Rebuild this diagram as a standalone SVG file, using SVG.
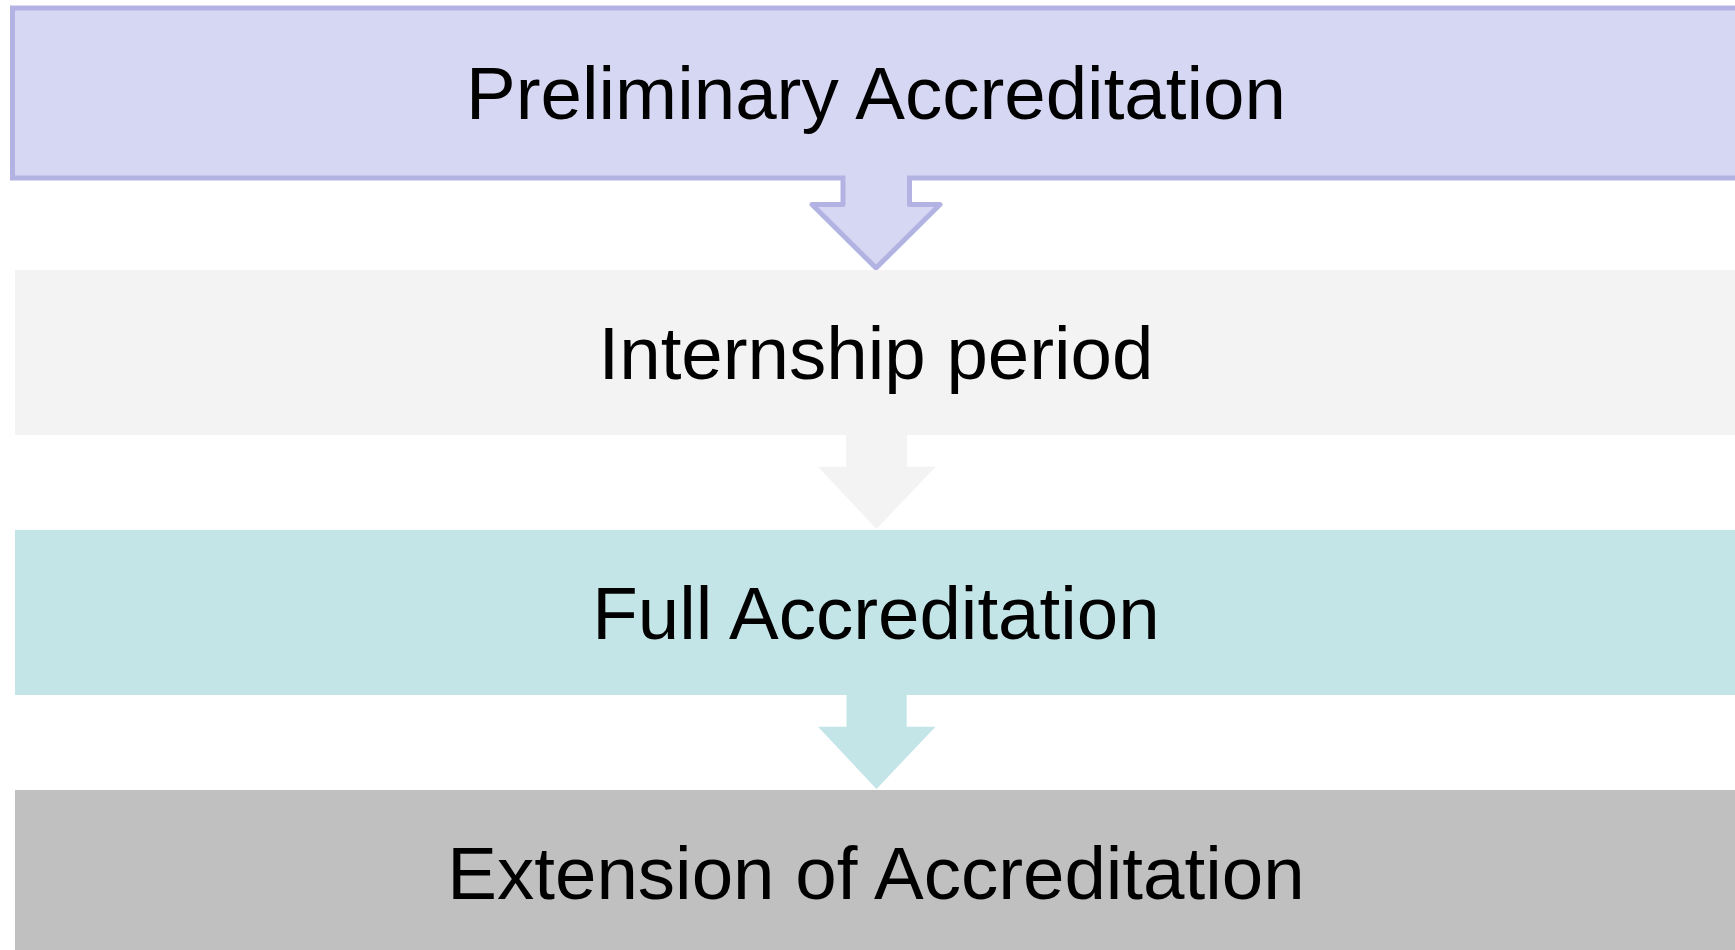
<svg xmlns="http://www.w3.org/2000/svg" width="1735" height="950" viewBox="0 0 1735 950">
<style>
.lbl{font-family:"Liberation Sans",Arial,sans-serif;font-size:74.5px;fill:#000;text-anchor:middle}
</style>
<rect width="1735" height="950" fill="#fff"/>
<g id="connectors">
<polygon points="843,176 843,204.5 812,204.5 876,268 940,204.5 909.5,204.5 909.5,176" fill="#d6d7f2" stroke="#b3b3e3" stroke-width="5" stroke-linejoin="round"/>
<polygon points="846,434 846,466.7 818,466.7 876.5,529 935.5,466.7 907,466.7 907,434" fill="#f3f3f3"/>
<polygon points="846.5,694 846.5,726.7 818,726.7 876.5,789 935.5,726.7 906.7,726.7 906.7,694" fill="#c4e5e8"/>
</g>
<g id="node1">
<rect x="12.5" y="8" width="1740" height="170" fill="#d6d7f2" stroke="#b3b3e3" stroke-width="5"/>
<rect x="845.5" y="172" width="61.5" height="9.5" fill="#d6d7f2"/>
<text class="lbl" x="876" y="119.3">Preliminary Accreditation</text>
</g>
<g id="node2">
<rect x="15" y="270" width="1730" height="165" fill="#f3f3f3"/>
<text class="lbl" x="876" y="379.3">Internship period</text>
</g>
<g id="node3">
<rect x="15" y="530" width="1730" height="165" fill="#c4e5e8"/>
<text class="lbl" x="876" y="639.3">Full Accreditation</text>
</g>
<g id="node4">
<rect x="15" y="790" width="1730" height="170" fill="#c0c0c0"/>
<text class="lbl" x="876" y="899.3">Extension of Accreditation</text>
</g>
</svg>
